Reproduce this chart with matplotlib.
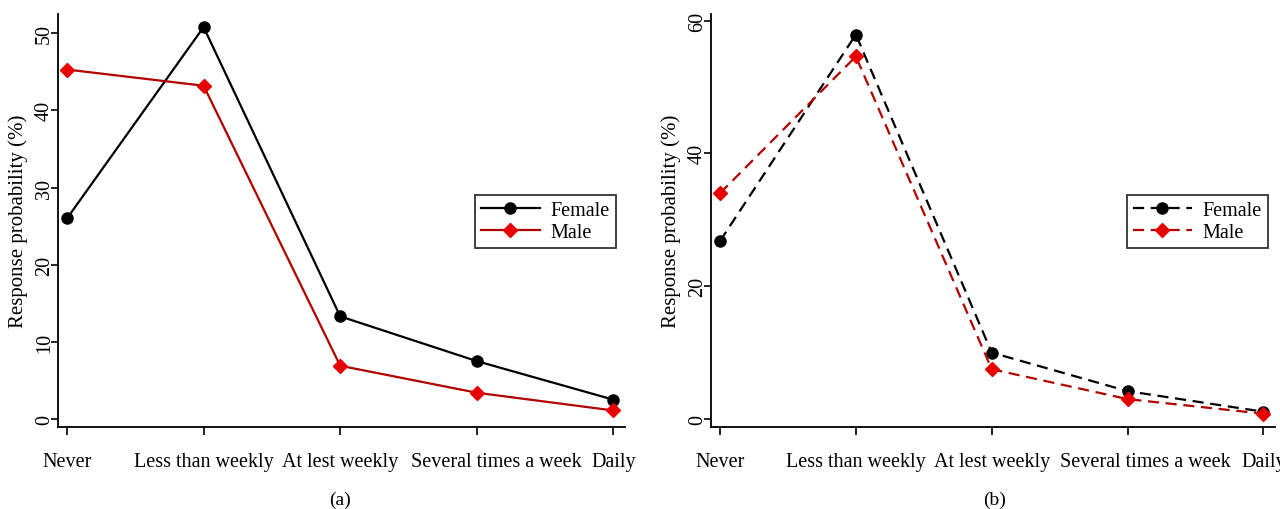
import matplotlib
matplotlib.use("Agg")
import matplotlib.pyplot as plt
import matplotlib.transforms as mtransforms

plt.rcParams['font.family'] = ['Liberation Serif', 'DejaVu Serif']

categories = ["Never", "Less than weekly", "At lest weekly", "Several times a week", "Daily"]
female_a = [26.0, 50.8, 13.3, 7.5, 2.5]
male_a = [45.3, 43.2, 6.9, 3.4, 1.1]
female_b = [26.8, 57.9, 10.0, 4.2, 1.1]
male_b = [34.0, 54.6, 7.5, 3.0, 0.8]
yticks_a = [0, 10, 20, 30, 40, 50]
yticks_b = [0, 20, 40, 60]

fig = plt.figure(figsize=(12.8, 5.1), dpi=100)
ax1 = fig.add_axes([0.0453, 0.1608, 0.443, 0.8098])
ax2 = fig.add_axes([0.5555, 0.1608, 0.4406, 0.8098])

x = list(range(len(categories)))
male_line = '#b00000'
male_fill = '#e60000'

def style(ax, yticks, ylim, shift_px):
    ax.set_xlim(-0.066, 4.085)
    ax.set_ylim(*ylim)
    ax.set_yticks(yticks)
    ax.set_yticklabels([str(v) for v in yticks], rotation=90, va='center', fontsize=14.5)
    ax.set_xticks(x)
    ax.set_xticklabels(categories, fontsize=14.5)
    ax.tick_params(axis='x', length=6, width=1.2, pad=12)
    ax.tick_params(axis='y', length=5, width=1.2, pad=-2)
    for s in ['top', 'right']:
        ax.spines[s].set_visible(False)
    for s in ['left', 'bottom']:
        ax.spines[s].set_linewidth(1.3)
    ax.set_ylabel('Response probability (%)', fontsize=15, labelpad=5)
    lab = ax.get_xticklabels()[3]
    off = mtransforms.ScaledTranslation(shift_px / 100, 0, fig.dpi_scale_trans)
    lab.set_transform(lab.get_transform() + off)

leg_kw = dict(loc='upper left', fontsize=14.5, frameon=True, fancybox=False,
              edgecolor='black', handlelength=2.9, borderpad=0.3,
              labelspacing=0.12, handletextpad=0.55)

ax1.plot(x, female_a, color='black', lw=1.6, marker='o', ms=8, label='Female')
ax1.plot(x, male_a, color=male_line, lw=1.6, marker='D', ms=7.5, mfc=male_fill, mec=male_fill, label='Male')
style(ax1, yticks_a, (-1.04, 52.5), 20)
leg1 = ax1.legend(bbox_to_anchor=(0.718, 0.586), **leg_kw)
leg1.get_frame().set_linewidth(1.3)

ax2.plot(x, female_b, color='black', lw=1.6, ls='--', dashes=(5, 3), marker='o', ms=8, label='Female')
ax2.plot(x, male_b, color=male_line, lw=1.6, ls='--', dashes=(5, 3), marker='D', ms=7.5, mfc=male_fill, mec=male_fill, label='Male')
style(ax2, yticks_b, (-1.2, 61.0), 18)
leg2 = ax2.legend(bbox_to_anchor=(0.72, 0.586), **leg_kw)
leg2.get_frame().set_linewidth(1.3)

fig.text(340 / 1280, 1 - 500 / 510, '(a)', ha='center', va='center', fontsize=14)
fig.text(995 / 1280, 1 - 500 / 510, '(b)', ha='center', va='center', fontsize=14)

fig.savefig('out.png', dpi=100)
